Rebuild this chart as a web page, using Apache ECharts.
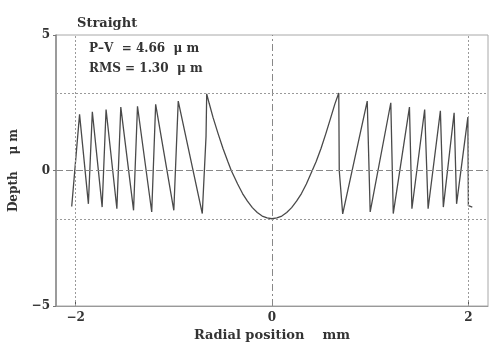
<!DOCTYPE html>
<html>
<head>
<meta charset="utf-8">
<script src="https://cdn.jsdelivr.net/npm/echarts@6/dist/echarts.min.js"></script>
<style>html,body{margin:0;padding:0;background:#fff;}#c{width:492px;height:347px;}</style>
</head>
<body>
<div id="c"></div>
<script>
// ---- data ----
const profileX = [-2.04, -2.02, -1.96, -1.87, -1.83, -1.73, -1.69, -1.58, -1.54, -1.41, -1.37, -1.225, -1.185, -1.0, -0.955, -0.71, -0.672, -0.665,
  -0.64, -0.6, -0.55, -0.5, -0.45, -0.415, -0.35, -0.3, -0.25, -0.2, -0.15, -0.1, -0.05, 0,
  0.05, 0.1, 0.15, 0.2, 0.25, 0.3, 0.35, 0.41, 0.45, 0.5, 0.55, 0.6, 0.64, 0.68,
  0.685, 0.72, 0.97, 1.0, 1.21, 1.235, 1.40, 1.425, 1.555, 1.59, 1.715, 1.745, 1.855, 1.88, 1.995, 2.0, 2.04];
const profileY = [-1.33, -1.35, 2.07, -1.23, 2.17, -1.35, 2.25, -1.41, 2.34, -1.47, 2.37, -1.53, 2.44, -1.47, 2.56, -1.59, 1.25, 2.83,
  2.48, 1.95, 1.37, 0.82, 0.33, 0, -0.5, -0.85, -1.13, -1.37, -1.55, -1.68, -1.75, -1.78,
  -1.75, -1.68, -1.55, -1.37, -1.13, -0.85, -0.5, 0, 0.33, 0.82, 1.38, 1.97, 2.45, 2.86,
  0.0, -1.6, 2.56, -1.53, 2.5, -1.59, 2.34, -1.41, 2.25, -1.41, 2.2, -1.35, 2.13, -1.23, 1.97, -1.3, -1.35];
const xTicks = [-2, 0, 2];
const yTicks = [-5, 0, 5];
const xRange = [-2.2, 2.2];
const yRange = [-5, 5];
const boundX = [-2, 2];      // dotted vertical limits
const centerX = [0];         // dash-dot centre line
const zeroY = [0];           // dashed zero line
const pvY = [2.86, -1.8];    // dotted peak / valley lines
const titleText = 'Straight';
const noteLines = ['P\u2013V  = 4.66  \u03bc m', 'RMS = 1.30  \u03bc m'];
const xName = 'Radial position    mm';
const yName = 'Depth    \u03bc m';

const data = profileX.map((x, i) => [x, profileY[i]]);
const serif = 'DejaVu Serif';
const fmtNum = v => (v < 0 ? '\u2212' + Math.abs(v) : String(v));

const markData = []
  .concat(boundX.map(v => ({ xAxis: v, lineStyle: { type: [2, 2], color: '#9a9a9a', width: 1 } })))
  .concat(centerX.map(v => ({ xAxis: v, lineStyle: { type: [7, 3, 2, 3], color: '#888', width: 1 } })))
  .concat(zeroY.map(v => ({ yAxis: v, lineStyle: { type: [7, 3], color: '#888', width: 1 } })))
  .concat(pvY.map(v => ({ yAxis: v, lineStyle: { type: [2, 2], color: '#9a9a9a', width: 1 } })));

const chart = echarts.init(document.getElementById('c'), null, { renderer: 'canvas' });
chart.setOption({
  animation: false,
  backgroundColor: '#fff',
  title: {
    text: titleText, left: 72, top: 12,
    textStyle: { fontFamily: serif, fontWeight: 'bold', fontSize: 13, color: '#333' }
  },
  graphic: noteLines.map((t, i) => ({
    type: 'text', left: 89, top: 43 + i * 20,
    style: { text: t, font: 'bold 12px "DejaVu Serif"', fill: '#333' }
  })),
  grid: { left: 54, right: 4, top: 35, bottom: 39, show: true, borderColor: '#a8a8a8', borderWidth: 1 },
  xAxis: {
    type: 'value', min: xRange[0], max: xRange[1],
    name: xName, nameLocation: 'middle', nameGap: 23,
    nameTextStyle: { fontFamily: serif, fontWeight: 'bold', fontSize: 13, color: '#333' },
    axisLine: { show: true, onZero: false, lineStyle: { color: '#999' } },
    axisTick: { show: true, inside: true, length: 5, customValues: xTicks, lineStyle: { color: '#555' } },
    axisLabel: { customValues: xTicks, formatter: fmtNum, fontFamily: serif, fontWeight: 'bold', fontSize: 12, color: '#333', margin: 6 },
    splitLine: { show: false }
  },
  yAxis: {
    type: 'value', min: yRange[0], max: yRange[1],
    name: yName, nameLocation: 'middle', nameGap: 36, nameRotate: 90,
    nameTextStyle: { fontFamily: serif, fontWeight: 'bold', fontSize: 12, color: '#333' },
    axisLine: { show: true, onZero: false, lineStyle: { color: '#888', width: 1.5 } },
    axisTick: { show: true, inside: false, length: 3, customValues: yTicks, lineStyle: { color: '#777' } },
    axisLabel: { customValues: yTicks, formatter: fmtNum, fontFamily: serif, fontWeight: 'bold', fontSize: 12, color: '#333', margin: 6 },
    splitLine: { show: false }
  },
  series: [{
    type: 'line', data: data, showSymbol: false, symbol: 'none',
    lineStyle: { color: '#4a4a4a', width: 1.3 },
    markLine: { silent: true, symbol: 'none', label: { show: false }, data: markData }
  }]
});
</script>
</body>
</html>
